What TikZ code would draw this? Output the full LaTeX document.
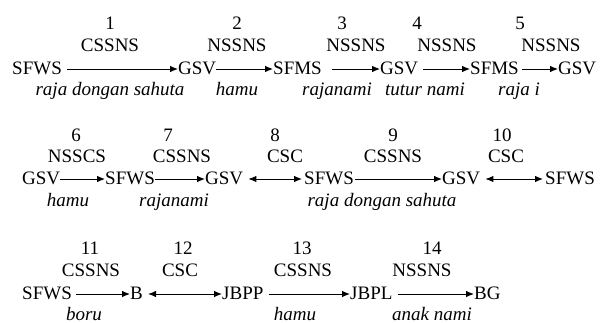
\documentclass[tikz,border=0pt]{standalone}
\usepackage{fontspec}
\setmainfont{Liberation Serif}
\usetikzlibrary{arrows.meta}
\newcommand{\diagfont}{\fontsize{19}{22}\selectfont}
\tikzset{
  lbl/.style={font=\diagfont, inner sep=0pt, anchor=base},
  num/.style={lbl},
  code/.style={lbl},
  rel/.style={lbl, font=\diagfont\itshape},
  term/.style={font=\diagfont, inner sep=0pt, anchor=base west,
               text height=12pt, text depth=0pt},
  arr/.style={-{Latex[length=8pt,width=6.5pt]}, line width=0.9pt},
  biarr/.style={{Latex[length=8pt,width=6.5pt]}-{Latex[length=8pt,width=6.5pt]}, line width=0.9pt}
}
\begin{document}
\begin{tikzpicture}[x=1pt,y=-1pt]
\useasboundingbox (0,0) rectangle (603,323);

% ---------- first row ----------
\node[term] (r1a) at (12,75)  {SFWS};
\node[term] (r1b) at (178,75) {GSV};
\node[term] (r1c) at (273,75) {SFMS};
\node[term] (r1d) at (380,75) {GSV};
\node[term] (r1e) at (470,75) {SFMS};
\node[term] (r1f) at (558,75) {GSV};

\draw[arr, shorten <=5pt]  (r1a.east) -- (r1b.west);
\draw[arr]                 (r1b.east) -- (r1c.west);
\draw[arr, shorten <=10pt] (r1c.east) -- (r1d.west);
\draw[arr, shorten <=5pt]  (r1d.east) -- (r1e.west);
\draw[arr, shorten <=3pt]  (r1e.east) -- (r1f.west);

\node[num]  (n1)  at (110,30) {1};
\node[code] (c1)  at (110,52) {CSSNS};
\node[rel]  (i1)  at (110,96) {raja dongan sahuta};
\node[num]  (n2)  at (237,30) {2};
\node[code] (c2)  at (237,52) {NSSNS};
\node[rel]  (i2)  at (237,96) {hamu};
\node[num]  (n3)  at (342,30) {3};
\node[code] (c3)  at (356,52) {NSSNS};
\node[rel]  (i3)  at (337,96) {rajanami};
\node[num]  (n4)  at (417,30) {4};
\node[code] (c4)  at (447,52) {NSSNS};
\node[rel]  (i4)  at (425,96) {tutur nami};
\node[num]  (n5)  at (520,30) {5};
\node[code] (c5)  at (551,52) {NSSNS};
\node[rel]  (i5)  at (519,96) {raja i};

% ---------- second row ----------
\node[term] (r2a) at (22,185)  {GSV};
\node[term] (r2b) at (105,185) {SFWS};
\node[term] (r2c) at (205,185) {GSV};
\node[term] (r2d) at (304,185) {SFWS};
\node[term] (r2e) at (442,185) {GSV};
\node[term] (r2f) at (545,185) {SFWS};

\draw[arr]                                  (r2a.east) -- (r2b.west);
\draw[arr]                                  (r2b.east) -- (r2c.west);
\draw[biarr, shorten <=5pt, shorten >=2pt]  (r2c.east) -- (r2d.west);
\draw[arr, shorten <=1pt]                   (r2d.east) -- (r2e.west);
\draw[biarr, shorten <=5pt, shorten >=2pt]  (r2e.east) -- (r2f.west);

\node[num]  (n6)  at (76,142)  {6};
\node[code] (c6)  at (77,163)  {NSSCS};
\node[rel]  (i6)  at (68,207)  {hamu};
\node[num]  (n7)  at (168,142) {7};
\node[code] (c7)  at (182,163) {CSSNS};
\node[rel]  (i7)  at (174,207) {rajanami};
\node[num]  (n8)  at (275,142) {8};
\node[code] (c8)  at (285,163) {CSC};
\node[num]  (n9)  at (393,142) {9};
\node[code] (c9)  at (393,163) {CSSNS};
\node[rel]  (i9)  at (382,207) {raja dongan sahuta};
\node[num]  (n10) at (502,142) {10};
\node[code] (c10) at (506,163) {CSC};

% ---------- third row ----------
\node[term] (r3a) at (22,300)  {SFWS};
\node[term] (r3b) at (130,300) {B};
\node[term] (r3c) at (222,300) {JBPP};
\node[term] (r3d) at (350,300) {JBPL};
\node[term] (r3e) at (474,300) {BG};

\draw[arr, shorten <=4pt]   (r3a.east) -- (r3b.west);
\draw[biarr, shorten <=5pt] (r3b.east) -- (r3c.west);
\draw[arr, shorten <=5pt]   (r3c.east) -- (r3d.west);
\draw[arr, shorten <=5pt]   (r3d.east) -- (r3e.west);

\node[num]  (n11) at (90,255)  {11};
\node[code] (c11) at (91,277)  {CSSNS};
\node[rel]  (i11) at (84,320)  {boru};
\node[num]  (n12) at (183,255) {12};
\node[code] (c12) at (180,277) {CSC};
\node[num]  (n13) at (302,255) {13};
\node[code] (c13) at (303,277) {CSSNS};
\node[rel]  (i13) at (295,320) {hamu};
\node[num]  (n14) at (432,255) {14};
\node[code] (c14) at (422,277) {NSSNS};
\node[rel]  (i14) at (432,320) {anak nami};
\end{tikzpicture}
\end{document}
